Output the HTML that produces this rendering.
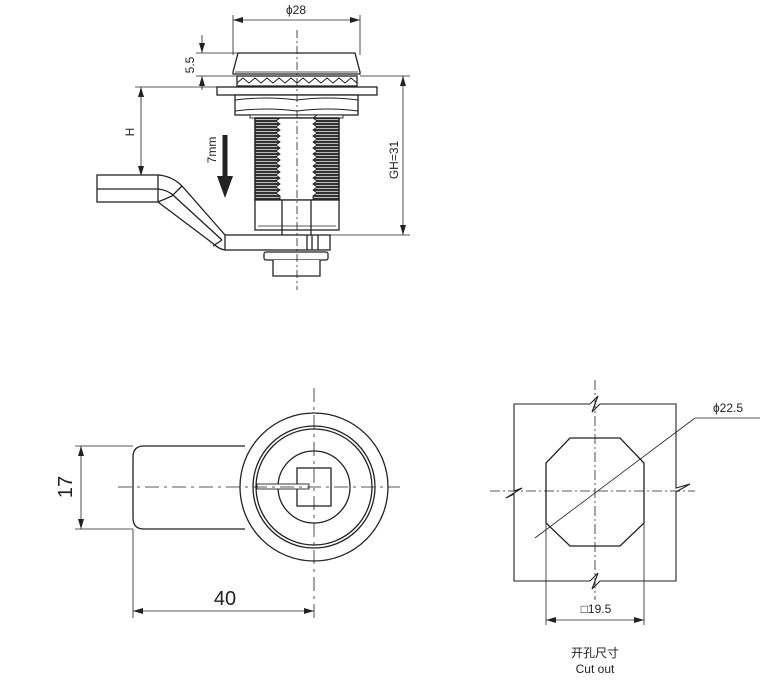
<!DOCTYPE html>
<html><head><meta charset="utf-8"><style>
html,body{margin:0;padding:0;background:#fff;}
svg{display:block}
text{font-family:"Liberation Sans","Noto Sans CJK SC",sans-serif;fill:#222}
</style></head><body>
<svg width="780" height="680" viewBox="0 0 780 680" xmlns="http://www.w3.org/2000/svg">
<defs>
<marker id="a" viewBox="0 0 10 6" refX="10" refY="3" markerWidth="10" markerHeight="6" orient="auto-start-reverse" markerUnits="userSpaceOnUse"><path d="M0,0 L10,3 L0,6z" fill="#222"/></marker>
<pattern id="th" width="4" height="3" patternUnits="userSpaceOnUse"><rect width="4" height="3" fill="#ddd"/><rect y="0" width="4" height="2.2" fill="#333"/></pattern>
</defs>
<g stroke="#222" stroke-width="1.3" fill="none">
<line x1="233" y1="15" x2="233" y2="55" stroke-width="0.8"/>
<line x1="360" y1="15" x2="360" y2="55" stroke-width="0.8"/>
<line x1="233" y1="20" x2="360" y2="20" stroke-width="0.8" marker-start="url(#a)" marker-end="url(#a)"/>
<line x1="196" y1="53" x2="238" y2="53" stroke-width="0.8"/>
<line x1="196" y1="76" x2="238" y2="76" stroke-width="0.8"/>
<line x1="202" y1="35" x2="202" y2="53" stroke-width="0.8" marker-end="url(#a)"/>
<line x1="202" y1="90" x2="202" y2="76" stroke-width="0.8" marker-end="url(#a)"/>
<line x1="135" y1="87" x2="217" y2="87" stroke-width="0.8"/>
<line x1="141" y1="87" x2="141" y2="176" stroke-width="0.8" marker-start="url(#a)" marker-end="url(#a)"/>
<line x1="360" y1="76" x2="410" y2="76" stroke-width="0.8"/>
<line x1="330" y1="235" x2="410" y2="235" stroke-width="0.8"/>
<line x1="403" y1="76" x2="403" y2="235" stroke-width="0.8" marker-start="url(#a)" marker-end="url(#a)"/>
<path d="M238,53 L355,53 L360,72 L360,74 L233,74 L233,72 Z" fill="#fff"/>
<line x1="235" y1="72" x2="358" y2="72" stroke-width="0.8"/>
<rect x="237" y="76" width="120" height="10" fill="#fff"/>
<path d="M237,83 l6,-5 6,5 6,-5 6,5 6,-5 6,5 6,-5 6,5 6,-5 6,5 6,-5 6,5 6,-5 6,5 6,-5 6,5 6,-5 6,5 6,-5 6,5" stroke-width="1"/>
<rect x="217" y="87" width="160" height="8" fill="#fff"/>
<rect x="235" y="95" width="123" height="20" fill="#fff"/>
<path d="M235,100 Q266,96 297,100 Q328,96 358,100 M235,111 Q266,107 297,111 Q328,107 358,111" stroke-width="0.9"/>
<rect x="250" y="115" width="93" height="3" fill="#fff" stroke-width="0.9"/>
<rect x="255" y="118" width="84" height="82" fill="url(#th)"/>
<path d="M280,118 l-4,3 4,3 -4,3 4,3 -4,3 4,3 -4,3 4,3 -4,3 4,3 -4,3 4,3 -4,3 4,3 -4,3 4,3 -4,3 4,3 -4,3 4,3 -4,3 4,3 -4,3 4,3 -4,3 4,3 0,4 L313,200 L313,196 l4,-3 -4,-3 4,-3 -4,-3 4,-3 -4,-3 4,-3 -4,-3 4,-3 -4,-3 4,-3 -4,-3 4,-3 -4,-3 4,-3 -4,-3 4,-3 -4,-3 4,-3 -4,-3 4,-3 -4,-3 4,-3 -4,-3 4,-3 -4,-3 4,-3 L313,118 Z" fill="#fff" stroke-width="0.9"/>
<rect x="255" y="118" width="84" height="82"/>
<rect x="255" y="200" width="84" height="30" fill="#fff"/>
<line x1="282" y1="200" x2="282" y2="235"/>
<line x1="311" y1="200" x2="311" y2="235"/>
<line x1="258" y1="226" x2="336" y2="226" stroke-width="0.8"/>
<rect x="97" y="175" width="61" height="27" fill="#fff"/>
<line x1="97" y1="189" x2="158" y2="189"/>
<path d="M158,175 Q172,176 182,186 L225,235 M158,202 L215,245 Q219,249 225,250 M158,189 Q168,190 174,196 L222,240 M182,186 L172,196 L158,202 M222,240 L213,246"/>
<rect x="225" y="235" width="105" height="15" fill="#fff"/>
<line x1="307" y1="235" x2="307" y2="250"/>
<line x1="312" y1="235" x2="312" y2="250"/>
<line x1="318" y1="235" x2="318" y2="250"/>
<rect x="264" y="252" width="64" height="8" fill="#fff" rx="2"/>
<path d="M273,260 L273,276 L320,276 L320,260" fill="#fff"/>
<line x1="297" y1="30" x2="297" y2="290" stroke-width="0.8" stroke-dasharray="8,3,2,3"/>
<line x1="225" y1="135" x2="225" y2="178" stroke-width="5"/>
<path d="M217,176 L233,176 L225,198 Z" fill="#222" stroke="none"/>

<circle cx="314" cy="487" r="74"/>
<circle cx="314" cy="487" r="61"/>
<circle cx="314" cy="487" r="58"/>
<circle cx="314" cy="487" r="36" fill="#fff"/>
<rect x="297" y="468" width="34" height="38"/>
<rect x="257" y="484" width="52" height="5" fill="#fff" stroke-width="0.9"/>
<path d="M245,446 L144,446 Q133,446 133,457 L133,518 Q133,529 144,529 L245,529"/>
<line x1="75" y1="446" x2="133" y2="446" stroke-width="0.8"/>
<line x1="75" y1="529" x2="133" y2="529" stroke-width="0.8"/>
<line x1="81" y1="446" x2="81" y2="529" stroke-width="0.8" marker-start="url(#a)" marker-end="url(#a)"/>
<line x1="133" y1="529" x2="133" y2="618" stroke-width="0.8"/>
<line x1="133" y1="611" x2="314" y2="611" stroke-width="0.8" marker-start="url(#a)" marker-end="url(#a)"/>
<line x1="118" y1="487" x2="400" y2="487" stroke-width="0.8" stroke-dasharray="14,5,3,5"/>
<line x1="314" y1="388" x2="314" y2="620" stroke-width="0.8" stroke-dasharray="14,5,3,5"/>

<path d="M514,404 L590,404 L598,396 L592,412 L600,404 L676,404 L676,488 L690,484 L676,492 L676,581 L600,581 L592,589 L598,573 L590,581 L514,581 L514,494 L506,498 L522,488 L514,491 Z" stroke-width="1.1"/>
<path d="M570,438 L620,438 L644,463 L644,523 L620,546 L570,546 L546,523 L546,463 Z"/>
<line x1="595" y1="380" x2="595" y2="600" stroke-width="0.8" stroke-dasharray="10,3,2,3"/>
<line x1="490" y1="491" x2="695" y2="491" stroke-width="0.8" stroke-dasharray="10,3,2,3"/>
<line x1="535" y1="538" x2="695" y2="418" stroke-width="0.8"/>
<line x1="695" y1="418" x2="760" y2="418" stroke-width="0.8"/>
<line x1="546" y1="523" x2="546" y2="625" stroke-width="0.8"/>
<line x1="644" y1="523" x2="644" y2="625" stroke-width="0.8"/>
<line x1="546" y1="620" x2="644" y2="620" stroke-width="0.8" marker-start="url(#a)" marker-end="url(#a)"/>
</g>
<text x="296" y="14" font-size="12" text-anchor="middle">ϕ28</text>
<text transform="translate(194,65) rotate(-90)" font-size="12" text-anchor="middle">5.5</text>
<text transform="translate(134,132) rotate(-90)" font-size="12" text-anchor="middle">H</text>
<text transform="translate(216,150) rotate(-90)" font-size="12" text-anchor="middle">7mm</text>
<text transform="translate(398,160) rotate(-90)" font-size="12" text-anchor="middle">GH=31</text>
<text transform="translate(72,487) rotate(-90)" font-size="20" text-anchor="middle">17</text>
<text x="225" y="605" font-size="20" text-anchor="middle">40</text>
<text x="728" y="412" font-size="12" text-anchor="middle">ϕ22.5</text>
<text x="596" y="613" font-size="12" text-anchor="middle">□19.5</text>
<text x="595" y="657" font-size="12" text-anchor="middle">开孔尺寸</text>
<text x="595" y="673" font-size="12" text-anchor="middle">Cut out</text>
</svg>
</body></html>
